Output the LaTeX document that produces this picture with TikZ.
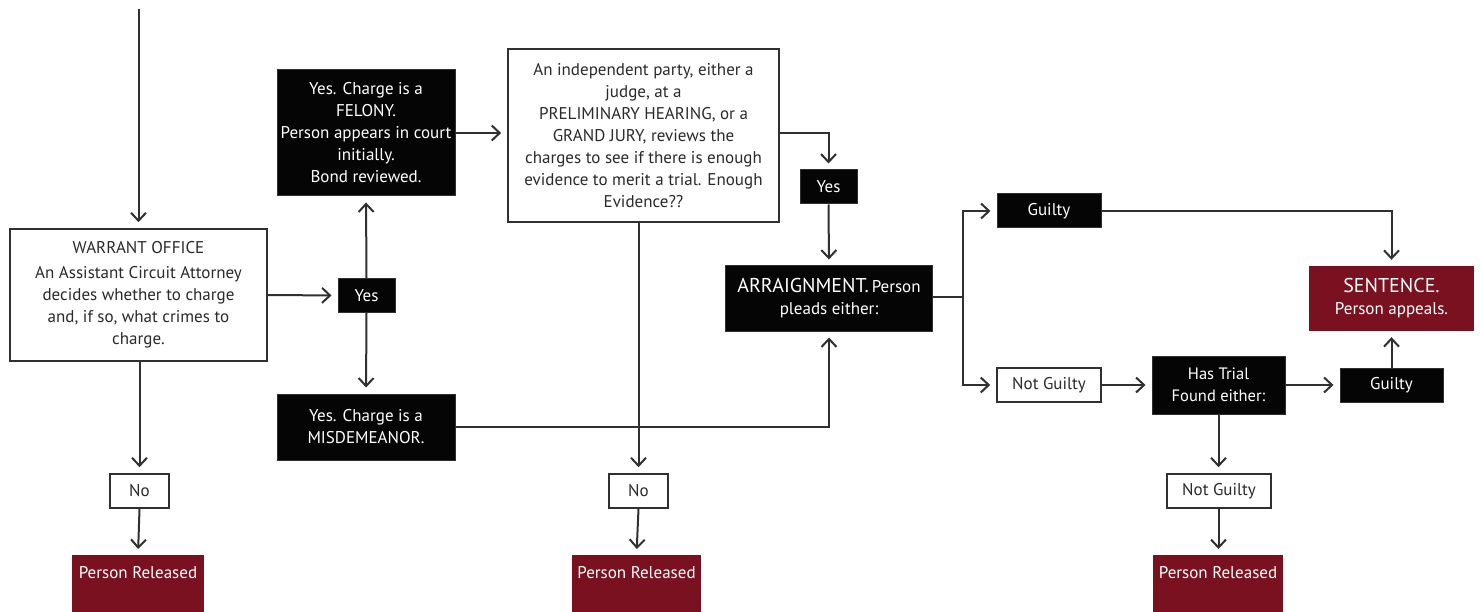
\documentclass[tikz,border=0pt]{standalone}
\usepackage{fontspec}
\setmainfont{PT Sans}
\usetikzlibrary{arrows.meta}
\definecolor{lineg}{HTML}{303030}
\definecolor{txtg}{HTML}{2A2A2A}
\definecolor{boxred}{HTML}{7A1120}
\definecolor{boxblk}{HTML}{050505}
\tikzset{
  base/.style={rectangle, inner sep=0pt, align=center, font=\fontsize{17}{22}\selectfont},
  wbox/.style={base, draw=lineg, line width=1.6pt, fill=white, text=txtg},
  bbox/.style={base, draw=lineg, line width=1pt, fill=boxblk, text=white},
  rbox/.style={base, fill=boxred, text=white},
  released/.style={rbox, anchor=north, minimum height=0pt, inner ysep=10pt, text height=13pt, text depth=40pt},
  conn/.style={draw=lineg, line width=2pt},
  arr/.style={conn, -{Straight Barb[length=8pt, width=15pt, line width=2pt]}, shorten >=6pt},
}
\begin{document}
\begin{tikzpicture}[x=1pt, y=-1pt]
\useasboundingbox[fill=white] (0,0) rectangle (1480,612);

% Nodes
\node[wbox, minimum width=257, minimum height=132] (warrant) at (138.5,295)
  {WARRANT OFFICE\\[3pt]An Assistant Circuit Attorney\\decides whether to charge\\and, if so, what crimes to\\charge.};
\node[bbox, minimum width=57, minimum height=33] (yes1) at (366.5,295.5) {Yes};
\node[bbox, minimum width=178, minimum height=126] (felony) at (366,133)
  {Yes. Charge is a\\FELONY.\\Person appears in court\\initially.\\Bond reviewed.};
\node[bbox, minimum width=178, minimum height=66] (misd) at (366,427)
  {Yes. Charge is a\\MISDEMEANOR.};
\node[wbox, minimum width=271, minimum height=173] (indep) at (643.5,135.5)
  {An independent party, either a\\judge, at a\\PRELIMINARY HEARING, or a\\GRAND JURY, reviews the\\charges to see if there is enough\\evidence to merit a trial. Enough\\Evidence??};
\node[bbox, minimum width=57, minimum height=34] (yes2) at (828.5,187) {Yes};
\node[bbox, minimum width=207, minimum height=65] (arrn) at (829,298.5)
  {{\fontsize{20}{22}\selectfont ARRAIGNMENT.}\,{\fontsize{17}{22}\selectfont Person}\\{\fontsize{17}{22}\selectfont pleads either:}};
\node[wbox, minimum width=59, minimum height=34] (no1) at (139.5,491) {No};
\node[wbox, minimum width=59, minimum height=34] (no2) at (638.5,491) {No};
\node[released, minimum width=132] (pr1) at (138,555) {Person Released};
\node[released, minimum width=129] (pr2) at (636.5,555) {Person Released};
\node[bbox, minimum width=104, minimum height=34] (guilty1) at (1049,211) {Guilty};
\node[wbox, minimum width=104, minimum height=34] (notg1) at (1049,385) {Not Guilty};
\node[rbox, minimum width=165, minimum height=65] (sentence) at (1391.5,298.5)
  {{\fontsize{20}{22}\selectfont SENTENCE.}\\{\fontsize{17}{22}\selectfont Person appeals.}};
\node[bbox, minimum width=133, minimum height=58] (hastrial) at (1218.5,385)
  {{\fontsize{16.5}{22}\selectfont Has Trial}\\{\fontsize{16.5}{22}\selectfont Found either:}};
\node[bbox, minimum width=103, minimum height=34] (guilty2) at (1391.5,385) {Guilty};
\node[wbox, minimum width=104, minimum height=34] (notg2) at (1219,491) {Not Guilty};
\node[released, minimum width=130] (pr3) at (1218,555) {Person Released};

\coordinate (start) at (138.5,9);
\coordinate (split) at (963,297);

% Connectors
\draw[arr] (start) -- (warrant.north);
\draw[arr] (warrant.east) -- (yes1.west);
\draw[arr] (yes1.north) -- (felony.south);
\draw[arr] (yes1.south) -- (misd.north);
\draw[arr] (felony.east) -- (felony.east -| indep.west);
\draw[arr] (indep.east |- felony.east) -| (yes2.north);
\draw[arr] (yes2.south) -- (arrn.north);
\draw[arr] (misd.east) -| (arrn.south);
\draw[arr] (no2.north |- indep.south) -- (no2.north);
\draw[arr] (warrant.south -| no1.north) -- (no1.north);
\draw[arr] (no1.south) -- (pr1.north);
\draw[arr] (no2.south) -- (pr2.north);
\draw[conn] (arrn.east |- split) -- (split);
\draw[arr] (split) |- (guilty1.west);
\draw[arr] (split) |- (notg1.west);
\draw[arr] (guilty1.east) -| (sentence.north);
\draw[arr] (notg1.east) -- (hastrial.west);
\draw[arr] (hastrial.east) -- (guilty2.west);
\draw[arr] (guilty2.north) -- (sentence.south);
\draw[arr] (hastrial.south) -- (hastrial.south |- notg2.north);
\draw[arr] (notg2.south -| hastrial.south) -- (pr3.north -| hastrial.south);
\end{tikzpicture}
\end{document}
